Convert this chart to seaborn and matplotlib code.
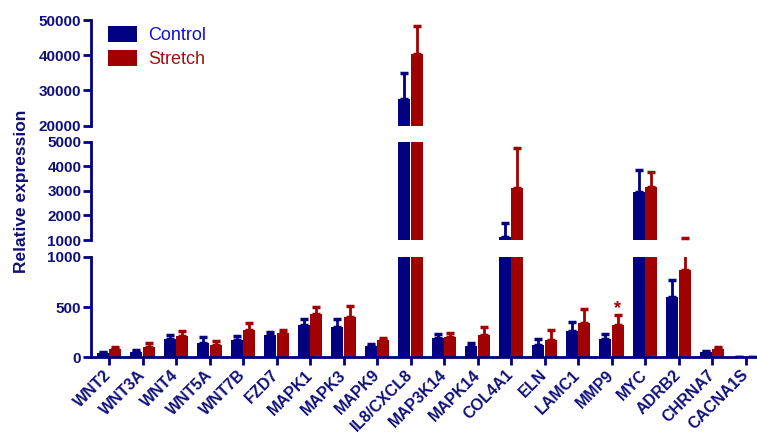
import numpy as np
import pandas as pd
import matplotlib
matplotlib.use("Agg")
import matplotlib.pyplot as plt
import seaborn as sns

sns.set_theme(style="white")
plt.rcParams['font.family'] = ['Liberation Sans', 'DejaVu Sans']

# ----------------------------------------------------------
# values (mean and upper SD)
genes = ["WNT2", "WNT3A", "WNT4", "WNT5A", "WNT7B", "FZD7", "MAPK1", "MAPK3",
         "MAPK9", "IL8/CXCL8", "MAP3K14", "MAPK14", "COL4A1", "ELN", "LAMC1",
         "MMP9", "MYC", "ADRB2", "CHRNA7", "CACNA1S"]
control = [40, 56, 180, 140, 173, 223, 320, 300, 113, 27450, 190, 116, 1110,
           123, 263, 180, 2965, 600, 56, 6]
control_sd = [10, 17, 43, 60, 43, 30, 60, 80, 20, 7560, 43, 30, 570, 57, 87,
              56, 885, 166, 10, 2]
stretch = [80, 106, 213, 123, 273, 240, 433, 400, 173, 40330, 206, 223, 3115,
           173, 346, 323, 3170, 863, 83, 2]
stretch_sd = [26, 40, 53, 40, 73, 33, 67, 113, 23, 7960, 40, 83, 1615, 100,
              137, 93, 610, 207, 23, 0]

navy = "#000080"
dark_red = "#A00000"
text_col = "#10107A"

df = pd.DataFrame({
    "gene": genes * 2,
    "value": control + stretch,
    "group": ["Control"] * len(genes) + ["Stretch"] * len(genes),
})

fig = plt.figure(figsize=(7.57, 4.34), dpi=100)
left, width = 91 / 757, 665 / 757
ax_top = fig.add_axes([left, 0.7108, width, 0.2431])
ax_mid = fig.add_axes([left, 0.4470, width, 0.2265])
ax_bot = fig.add_axes([left, 0.1767, width, 0.2318])

limits = {ax_top: (20000, 50000), ax_mid: (1000, 5000), ax_bot: (0, 1000)}
yticks = {ax_top: [20000, 30000, 40000, 50000],
          ax_mid: [1000, 2000, 3000, 4000, 5000],
          ax_bot: [0, 500, 1000]}

x = np.arange(len(genes))
off = 0.185

for ax in [ax_top, ax_mid, ax_bot]:
    sns.barplot(data=df, x="gene", y="value", hue="group",
                palette=[navy, dark_red], width=0.75, gap=0.03, linewidth=0,
                saturation=1, legend=(ax is ax_top), ax=ax)
    ax.errorbar(x - off, control, yerr=[np.zeros(len(genes)), control_sd],
                fmt="none", ecolor=navy, elinewidth=2, capsize=3, capthick=2.5)
    ax.errorbar(x + off, stretch, yerr=[np.zeros(len(genes)), stretch_sd],
                fmt="none", ecolor=dark_red, elinewidth=2, capsize=3, capthick=2.5)
    ax.set_xlim(-0.54, 19.31)
    ax.set_ylim(*limits[ax])
    ax.set_yticks(yticks[ax])
    ax.set_xlabel("")
    ax.set_ylabel("")
    for s in ["top", "right"]:
        ax.spines[s].set_visible(False)
    ax.spines["left"].set_color(navy)
    ax.spines["left"].set_linewidth(2)
    ax.tick_params(axis="y", direction="out", length=6, width=2, color=navy,
                   labelsize=11, labelcolor=text_col, pad=1, left=True)
    for lab in ax.get_yticklabels():
        lab.set_fontweight("bold")
    if ax is not ax_bot:
        ax.spines["bottom"].set_visible(False)
        ax.tick_params(axis="x", bottom=False, labelbottom=False)

ax_bot.spines["bottom"].set_color(navy)
ax_bot.spines["bottom"].set_linewidth(2)
ax_bot.tick_params(axis="x", direction="out", length=6, width=2, color=navy,
                   bottom=True, labelsize=11.5, labelcolor=text_col, pad=5)
ax_bot.set_xticks(x)
ax_bot.set_xticklabels(genes, rotation=45, ha="right", va="center",
                       rotation_mode="anchor", fontweight="bold")

# significance mark on MMP9
ax_bot.text(15 + off, 480, "*", color=dark_red, ha="center", va="center",
            fontsize=13, fontweight="bold")

leg = ax_top.legend(loc="upper left", bbox_to_anchor=(0.01, 1.05), frameon=False,
                    fontsize=13, handlelength=1.6, handleheight=1.0,
                    handletextpad=0.6, borderaxespad=0.2, labelspacing=0.35)
for t, c in zip(leg.get_texts(), ["#1010D0", "#A01010"]):
    t.set_color(c)

fig.text(0.028, 0.56, "Relative expression", rotation=90, ha="center",
         va="center", fontsize=12.5, fontweight="bold", color=text_col)

fig.savefig("out.png", dpi=100)
